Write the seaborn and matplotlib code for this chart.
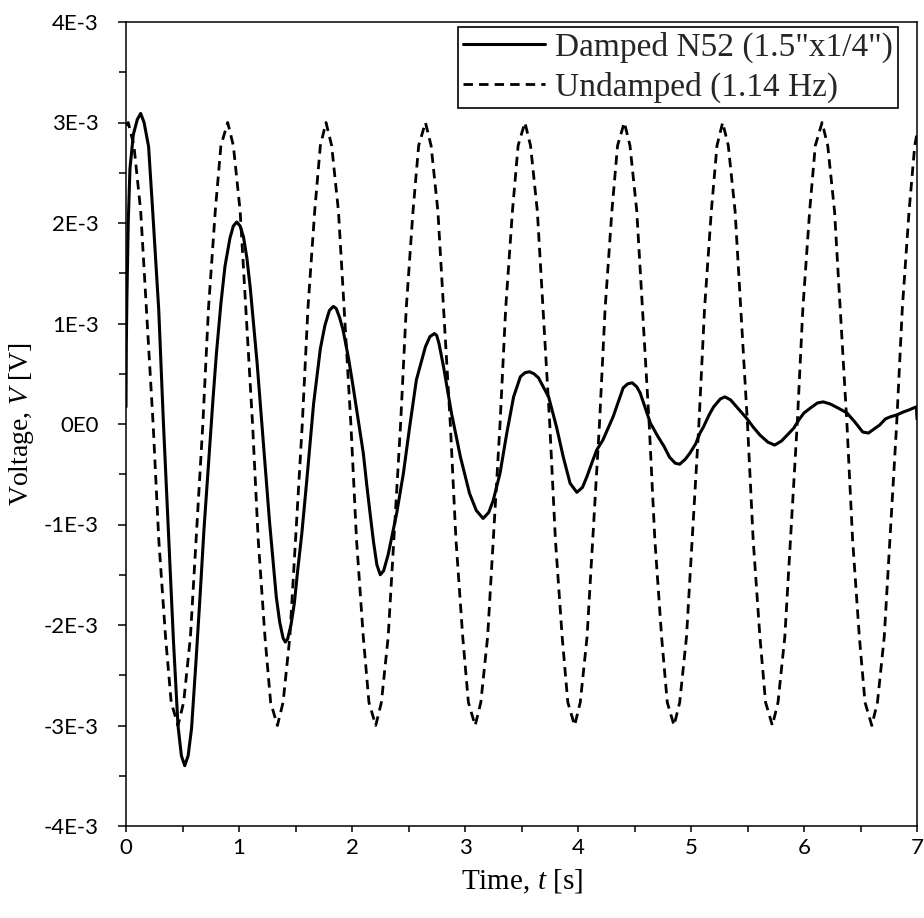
import matplotlib
matplotlib.use("Agg")
import matplotlib.pyplot as plt
import seaborn as sns
import pandas as pd

# ---------------- data (voltage values in units of 1E-3 V) ----------------
damped_t = [0.000, 0.003, 0.008, 0.020, 0.035, 0.065, 0.10, 0.13, 0.16, 0.20,
            0.24, 0.29, 0.33, 0.375, 0.42, 0.46, 0.49, 0.52, 0.55, 0.58,
            0.62, 0.655, 0.69, 0.73, 0.77, 0.80, 0.84, 0.876, 0.92, 0.95,
            0.98, 1.01, 1.04, 1.07, 1.10, 1.16, 1.215, 1.27, 1.33, 1.36,
            1.39, 1.41, 1.43, 1.46, 1.49, 1.52, 1.555, 1.60, 1.66, 1.72,
            1.76, 1.80, 1.835, 1.86, 1.89, 1.92, 1.97, 2.01, 2.06, 2.10,
            2.13, 2.16, 2.19, 2.22, 2.25, 2.28, 2.32, 2.395, 2.455, 2.51,
            2.57, 2.65, 2.69, 2.73, 2.75, 2.77, 2.81, 2.88, 2.96, 3.04,
            3.10, 3.16, 3.21, 3.25, 3.31, 3.37, 3.43, 3.49, 3.53, 3.57,
            3.61, 3.65, 3.74, 3.81, 3.87, 3.93, 3.99, 4.04, 4.08, 4.125,
            4.165, 4.22, 4.31, 4.40, 4.44, 4.48, 4.52, 4.55, 4.64, 4.71,
            4.76, 4.81, 4.86, 4.90, 4.95, 4.99, 5.04, 5.08, 5.11, 5.16,
            5.20, 5.26, 5.30, 5.35, 5.42, 5.49, 5.55, 5.61, 5.68, 5.74,
            5.80, 5.86, 5.91, 5.96, 6.00, 6.07, 6.12, 6.17, 6.23, 6.30,
            6.38, 6.45, 6.52, 6.57, 6.62, 6.67, 6.72, 6.76, 6.82, 6.88,
            6.93, 6.97, 6.995, 7.00]
damped_v = [0.17, 0.80, 1.26, 2.01, 2.54, 2.88, 3.03, 3.09, 3.00, 2.76,
            2.05, 1.13, 0.04, -1.06, -2.16, -3.00, -3.30, -3.40, -3.30, -3.03,
            -2.35, -1.72, -1.05, -0.40, 0.25, 0.70, 1.20, 1.57, 1.85, 1.97,
            2.01, 1.97, 1.86, 1.65, 1.35, 0.61, -0.18, -0.97, -1.72, -1.97,
            -2.13, -2.17, -2.14, -2.00, -1.78, -1.45, -1.10, -0.56, 0.20, 0.75,
            0.98, 1.13, 1.17, 1.15, 1.06, 0.94, 0.65, 0.37, 0.00, -0.29,
            -0.60, -0.89, -1.17, -1.40, -1.50, -1.46, -1.30, -0.89, -0.49, -0.03,
            0.44, 0.77, 0.87, 0.90, 0.88, 0.80, 0.57, 0.11, -0.33, -0.69,
            -0.86, -0.94, -0.88, -0.76, -0.49, -0.09, 0.27, 0.47, 0.51, 0.52,
            0.50, 0.46, 0.27, -0.03, -0.33, -0.59, -0.68, -0.63, -0.52, -0.38,
            -0.26, -0.16, 0.07, 0.36, 0.40, 0.41, 0.37, 0.31, 0.01, -0.13,
            -0.22, -0.33, -0.39, -0.40, -0.35, -0.29, -0.20, -0.09, -0.03, 0.09,
            0.17, 0.25, 0.27, 0.24, 0.15, 0.06, -0.03, -0.11, -0.18, -0.21,
            -0.17, -0.10, -0.04, 0.05, 0.11, 0.17, 0.21, 0.22, 0.20, 0.16,
            0.11, 0.02, -0.08, -0.09, -0.05, -0.01, 0.05, 0.07, 0.09, 0.12,
            0.14, 0.16, 0.17, 0.05]

undamped_t = [0.00,
              0.02, 0.07, 0.13, 0.18, 0.24, 0.29, 0.35, 0.40, 0.46, 0.51, 0.57, 0.62, 0.68, 0.73, 0.79, 0.84,
              0.90, 0.95, 1.01, 1.06, 1.12, 1.17, 1.23, 1.28, 1.34, 1.39, 1.45, 1.50, 1.56, 1.61, 1.67, 1.72,
              1.77, 1.82, 1.88, 1.93, 1.99, 2.04, 2.10, 2.15, 2.21, 2.26, 2.32, 2.37, 2.43, 2.48, 2.54, 2.59,
              2.65, 2.70, 2.76, 2.81, 2.87, 2.92, 2.98, 3.03, 3.09, 3.14, 3.20, 3.25, 3.31, 3.36, 3.42, 3.47,
              3.53, 3.58, 3.64, 3.69, 3.75, 3.80, 3.86, 3.91, 3.97, 4.02, 4.08, 4.13, 4.19, 4.24, 4.30, 4.35,
              4.41, 4.46, 4.52, 4.57, 4.63, 4.68, 4.74, 4.79, 4.85, 4.90, 4.96, 5.01, 5.07, 5.12, 5.18, 5.23,
              5.28, 5.33, 5.39, 5.44, 5.50, 5.55, 5.61, 5.66, 5.72, 5.77, 5.83, 5.88, 5.94, 5.99, 6.05, 6.10,
              6.16, 6.21, 6.27, 6.32, 6.38, 6.43, 6.49, 6.54, 6.60, 6.65, 6.71, 6.76, 6.82, 6.87, 6.93, 6.98,
              7.00]
undamped_v = [2.97,
              3.00, 2.77, 2.12, 1.15, 0.00, -1.15, -2.12, -2.77, -3.00, -2.77, -2.12, -1.15, 0.00, 1.15, 2.12, 2.77,
              3.00, 2.77, 2.12, 1.15, 0.00, -1.15, -2.12, -2.77, -3.00, -2.77, -2.12, -1.15, 0.00, 1.15, 2.12, 2.77,
              3.00, 2.77, 2.12, 1.15, 0.00, -1.15, -2.12, -2.77, -3.00, -2.77, -2.12, -1.15, 0.00, 1.15, 2.12, 2.77,
              3.00, 2.77, 2.12, 1.15, 0.00, -1.15, -2.12, -2.77, -3.00, -2.77, -2.12, -1.15, 0.00, 1.15, 2.12, 2.77,
              3.00, 2.77, 2.12, 1.15, 0.00, -1.15, -2.12, -2.77, -3.00, -2.77, -2.12, -1.15, 0.00, 1.15, 2.12, 2.77,
              3.00, 2.77, 2.12, 1.15, 0.00, -1.15, -2.12, -2.77, -3.00, -2.77, -2.12, -1.15, 0.00, 1.15, 2.12, 2.77,
              3.00, 2.77, 2.12, 1.15, 0.00, -1.15, -2.12, -2.77, -3.00, -2.77, -2.12, -1.15, 0.00, 1.15, 2.12, 2.77,
              3.00, 2.77, 2.12, 1.15, 0.00, -1.15, -2.12, -2.77, -3.00, -2.77, -2.12, -1.15, 0.00, 1.15, 2.12, 2.77,
              2.89]

series_labels = ['Damped N52 (1.5"x1/4")', 'Undamped (1.14 Hz)']
x_ticks = [0, 1, 2, 3, 4, 5, 6, 7]
y_ticks = [-4e-3, -3e-3, -2e-3, -1e-3, 0.0, 1e-3, 2e-3, 3e-3, 4e-3]
y_tick_labels = ['-4E-3', '-3E-3', '-2E-3', '-1E-3', '0E0', '1E-3', '2E-3', '3E-3', '4E-3']
x_label = 'Time, $t$ [s]'
y_label = 'Voltage, $V$ [V]'

# ---------------- style ----------------
sns.set_theme(style="ticks")
plt.rcParams['font.family'] = ['Lato', 'DejaVu Sans']
plt.rcParams['mathtext.fontset'] = 'custom'
plt.rcParams['mathtext.rm'] = 'Liberation Serif'
plt.rcParams['mathtext.it'] = 'Liberation Serif:italic'

df_d = pd.DataFrame({'t': damped_t, 'v': [v * 1e-3 for v in damped_v]})
df_u = pd.DataFrame({'t': undamped_t, 'v': [v * 1e-3 for v in undamped_v]})

fig = plt.figure(figsize=(9.24, 9.18), dpi=100)
ax = fig.add_axes([126 / 924, 1 - 826 / 918, 791 / 924, 804 / 918])

sns.lineplot(data=df_d, x='t', y='v', ax=ax, color='black', linewidth=2.2,
             estimator=None, sort=False, label=series_labels[0])
sns.lineplot(data=df_u, x='t', y='v', ax=ax, color='black', linewidth=2.0,
             estimator=None, sort=False, label=series_labels[1])
ax.lines[1].set_dashes([3.4, 2.2])

ax.set_xlim(0, 7)
ax.set_ylim(-4e-3, 4e-3)
ax.set_xticks(x_ticks)
ax.set_xticklabels([str(x) for x in x_ticks])
ax.set_xticks([x + 0.5 for x in x_ticks[:-1]], minor=True)
ax.set_yticks(y_ticks)
ax.set_yticklabels(y_tick_labels)
ax.set_yticks([y + 0.5e-3 for y in y_ticks[:-1]], minor=True)

ax.tick_params(which='both', direction='out', width=1.1, color='black',
               labelsize=16, labelcolor='black')
ax.tick_params(axis='x', which='both', length=4.5, pad=4)
ax.tick_params(axis='y', which='major', length=6, pad=13.5)
ax.tick_params(axis='y', which='minor', length=5)

for s in ax.spines.values():
    s.set_visible(True)
    s.set_color('black')
    s.set_linewidth(1.1)

ax.set_xlabel(x_label, fontfamily='Liberation Serif', fontsize=21, color='black')
ax.set_ylabel(y_label, fontfamily='Liberation Serif', fontsize=20, color='black')
ax.xaxis.set_label_coords(0.5, -0.052)
ax.yaxis.set_label_coords(-0.114, 0.5)

leg = ax.legend(loc='upper left', bbox_to_anchor=(0.42, 0.994), borderaxespad=0,
                frameon=True, fancybox=False, edgecolor='black', framealpha=1,
                prop={'family': 'Liberation Serif', 'size': 24},
                handlelength=2.45, handletextpad=0.3, borderpad=0.15, labelspacing=0.25)
leg.get_frame().set_linewidth(1.2)

fig.savefig('out.png', dpi=100)
